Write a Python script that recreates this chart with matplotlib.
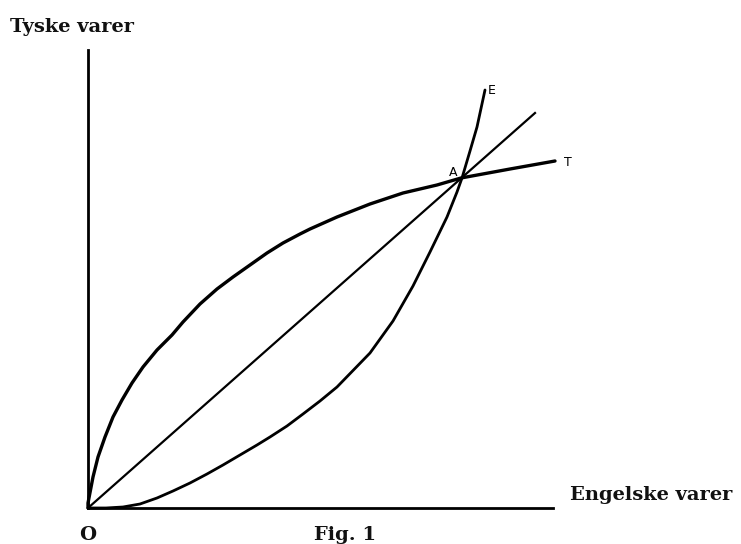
import matplotlib.pyplot as plt

# ── data (origin O = 0,0) ──
t_x = [0, 0, 5, 10, 17, 25, 34, 44, 55, 69, 84, 95, 112, 129, 145, 162,
       179, 195, 212, 222, 249, 282, 315, 349, 373, 422, 467]
t_y = [0, 5, 31, 51, 71, 91, 108, 125, 141, 158, 173, 186, 204, 219, 231, 243,
       255, 265, 274, 279, 291, 304, 315, 323, 330, 339, 347]

e_x = [0, 18, 35, 52, 69, 85, 102, 119, 135, 152, 169, 182, 199, 215, 232, 249, 282, 305,
       325, 342, 359, 369, 374, 382, 389, 397]
e_y = [0, 0, 1, 4, 10, 17, 25, 34, 43, 53, 63, 71, 82, 94, 107, 121, 155, 187,
       222, 256, 291, 316, 330, 357, 381, 418]

line_x = [0, 447]
line_y = [0, 395]

axis_x_end = 465
axis_y_end = 458

fig = plt.figure(figsize=(7.41, 5.44), dpi=100)
ax = fig.add_axes([0, 0, 1, 1])
ax.set_xlim(-88, 653)
ax.set_ylim(-36, 508)
ax.axis("off")

# akser
ax.plot([0, axis_x_end], [0, 0], color="black", lw=2)
ax.plot([0, 0], [0, axis_y_end], color="black", lw=2)

# kurver
ax.plot(t_x, t_y, color="black", lw=2.4, solid_capstyle="round", solid_joinstyle="round")
ax.plot(e_x, e_y, color="black", lw=2.0, solid_capstyle="round", solid_joinstyle="round")
ax.plot(line_x, line_y, color="black", lw=1.6)

serif = dict(family="DejaVu Serif", fontweight="bold", color="#111111")
ax.text(-78, 481, "Tyske varer", fontsize=14, ha="left", va="center", **serif)
ax.text(482, 13, "Engelske varer", fontsize=14, ha="left", va="center", **serif)
ax.text(0, -27, "O", fontsize=14, ha="center", va="center", **serif)
ax.text(257, -27, "Fig. 1", fontsize=14, ha="center", va="center", **serif)

hand = dict(family="DejaVu Sans", color="black", fontsize=9)
ax.text(365, 336, "A", ha="center", va="center", **hand)
ax.text(404, 417, "E", ha="center", va="center", **hand)
ax.text(480, 345, "T", ha="center", va="center", **hand)

fig.savefig("out.png", dpi=100)
